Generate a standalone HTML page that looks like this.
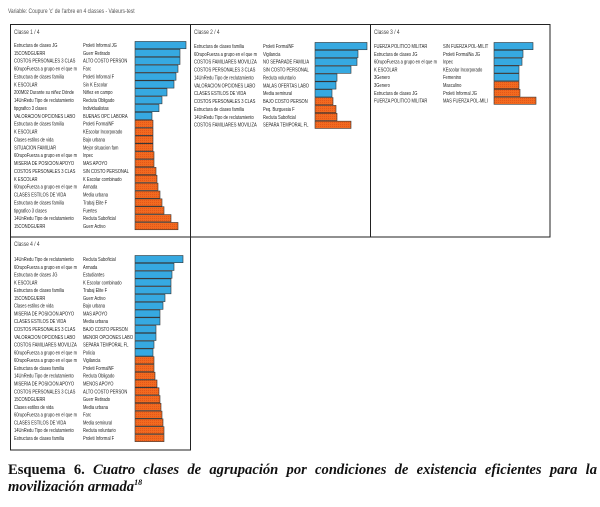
<!DOCTYPE html>
<html><head><meta charset="utf-8">
<style>
html,body{margin:0;padding:0;background:#fff;}
body{width:600px;height:507px;position:relative;overflow:hidden;}
svg{position:absolute;left:0;top:0;}
.cap{position:absolute;left:8px;top:462px;width:589px;font-family:"Liberation Serif",serif;font-size:14.6px;font-weight:bold;line-height:17px;text-align:justify;text-align-last:left;color:#111;}
.cap i{font-style:italic;}
.cap sup{font-size:8px;line-height:0;}
</style></head>
<body>
<svg id="chart" width="600" height="507" xmlns="http://www.w3.org/2000/svg">
<defs>
<pattern id="hatch" width="2" height="2" patternUnits="userSpaceOnUse">
<rect width="2" height="2" fill="#f26a1f"/>
<rect width="1" height="1" fill="#e4561a"/>
</pattern>
</defs>
<text x="10" y="13" font-family="Liberation Sans, sans-serif" font-size="6.2" fill="#555" transform="scale(0.8,1)">Variable: Coupure 'c' de l'arbre en  4 classes  -  Valeurs-test</text>
<g fill="none" stroke="#222" stroke-width="1">
<rect x="10.5" y="24.5" width="539.5" height="212.5"/>
<line x1="190.5" y1="24.5" x2="190.5" y2="237" />
<line x1="370.5" y1="24.5" x2="370.5" y2="237" />
<rect x="10.5" y="237" width="180" height="213"/>
</g>
</svg>
<div class="cap">Esquema 6. <i>Cuatro clases de agrupación por condiciones de existencia eficientes para la movilización armada</i><sup><i>18</i></sup></div>
<script>
// Panel 1
const p1Var = ["Estructura de clases JG","15CONDGUERR","COSTOS PERSONALES 3 CLAS","60rupoFuerza a grupo en el que m","Estructura de clases familia","K ESCOLAR","200M02 Durante su niñez Dónde","14UnRedu Tipo de reclutamiento","tipgrafico 3 clases","VALORACION OPCIONES LABO","Estructura de clases familia","K ESCOLAR","Clases estilos de vida","SITUACION FAMILIAR","60rupoFuerza a grupo en el que m","MISERIA  DE POSICION  APOYO","COSTOS PERSONALES 3 CLAS","K ESCOLAR","60rupoFuerza a grupo en el que m","CLASES ESTILOS DE VIDA","Estructura de clases familia","tipgrafico 3 clases","14UnRedu Tipo de reclutamiento","15CONDGUERR"];
const p1Mod = ["Proleti Informal JG","Guerr Retirado","ALTO COSTO PERSON","Farc","Proleti Informal F","Sin K Escolar","Niñez en campo","Recluta Obligado","Individualistas","BUENAS OPC LABORA","Proleti FormalNF","KEscolar Incorporado","Bajo urbana","Mejor situacion fam","Inpec","MAS APOYO","SIN COSTO PERSONAL","K Escolar combinado","Armada","Media urbana","Trabaj Elite F","Fuertes","Recluta Suboficial","Guerr Activo"];
const p1Val = [51,45,45,43,41,39,32,27,24,17,18,18,18,18,19,19,21,22,23,25,27,29,36,43];
const p1Sign = [1,1,1,1,1,1,1,1,1,1,-1,-1,-1,-1,-1,-1,-1,-1,-1,-1,-1,-1,-1,-1];
// Panel 2
const p2Var = ["Estructura de clases familia","60rupoFuerza a grupo en el que m","COSTOS FAMILIARES MOVILIZA","COSTOS PERSONALES 3 CLAS","14UnRedu Tipo de reclutamiento","VALORACION OPCIONES LABO","CLASES ESTILOS DE VIDA","COSTOS PERSONALES 3 CLAS","Estructura de clases familia","14UnRedu Tipo de reclutamiento","COSTOS FAMILIARES MOVILIZA"];
const p2Mod = ["Proleti FormalNF","Vigilancia","NO SEPARADE FAMILIA","SIN COSTO PERSONAL","Recluta voluntario","MALAS OFERTAS LABO","Media semirural","BAJO COSTO PERSON","Peq. Burguesia F","Recluta Suboficial","SEPARA TEMPORAL FL"];
const p2Val = [52,43,42,36,22,21,17,18,21,22,36];
const p2Sign = [1,1,1,1,1,1,1,-1,-1,-1,-1];
// Panel 3
const p3Var = ["FUERZA POLITICO MILITAR","Estructura de clases JG","60rupoFuerza a grupo en el que m","K ESCOLAR","3Genero","3Genero","Estructura de clases JG","FUERZA POLITICO MILITAR"];
const p3Mod = ["SIN FUERZA POL-MILIT","Proleti FormalNa JG","Inpec","KEscolar Incorporado","Femenino","Masculino","Proleti Informal JG","MAS FUERZA POL-MILI"];
const p3Val = [39,29,28,25,25,25,26,42];
const p3Sign = [1,1,1,1,1,-1,-1,-1];
// Panel 4
const p4Var = ["14UnRedu Tipo de reclutamiento","60rupoFuerza a grupo en el que m","Estructura de clases JG","K ESCOLAR","Estructura de clases familia","15CONDGUERR","Clases estilos de vida","MISERIA  DE POSICION  APOYO","CLASES ESTILOS DE VIDA","COSTOS PERSONALES 3 CLAS","VALORACION OPCIONES LABO","COSTOS FAMILIARES MOVILIZA","60rupoFuerza a grupo en el que m","60rupoFuerza a grupo en el que m","Estructura de clases familia","14UnRedu Tipo de reclutamiento","MISERIA  DE POSICION  APOYO","COSTOS PERSONALES 3 CLAS","15CONDGUERR","Clases estilos de vida","60rupoFuerza a grupo en el que m","CLASES ESTILOS DE VIDA","14UnRedu Tipo de reclutamiento","Estructura de clases familia"];
const p4Mod = ["Recluta Suboficial","Armada","Estudiantes","K Escolar combinado","Trabaj Elite F","Guerr Activo","Bajo urbana","MAS APOYO","Media urbana","BAJO COSTO PERSON","MENOR OPCIONES LABO","SEPARA TEMPORAL FL","Policia","Vigilancia","Proleti FormalNF","Recluta Obligado","MENOS APOYO","ALTO COSTO PERSON","Guerr Retirado","Media urbana","Farc","Media semirural","Recluta voluntario","Proleti Informal F"];
const p4Val = [48,39,37,36,36,30,28,25,25,21,21,19,18,19,19,20,22,24,25,26,27,28,29,29];
const p4Sign = [1,1,1,1,1,1,1,1,1,1,1,1,1,-1,-1,-1,-1,-1,-1,-1,-1,-1,-1,-1];

const NS = "http://www.w3.org/2000/svg";
const svg = document.getElementById('chart');
const SX = 0.76;

function addText(g, x, y, str, size, fill) {
  const t = document.createElementNS(NS, 'text');
  t.setAttribute('x', (x / SX).toFixed(2));
  t.setAttribute('y', y);
  t.setAttribute('transform', 'scale(' + SX + ',1)');
  t.setAttribute('font-family', 'Liberation Sans, sans-serif');
  t.setAttribute('font-size', size);
  t.setAttribute('fill', fill);
  t.textContent = str;
  g.appendChild(t);
  return t;
}

function drawPanel(num, left, top, rowTop, step, col2, barX, scale, vars, mods, vals, signs) {
  const g = document.createElementNS(NS, 'g');
  
  
  svg.appendChild(g);
  const title = addText(g, left + 4, top + 10, 'Classe  ' + num + ' / 4', 6.4, '#444');
  
  
  const vx = v => v * scale;
  for (let i = 0; i < vars.length; i++) {
    const cy = rowTop + i * step;
    const a = addText(g, left + 4, cy + 2, vars[i], 5.4, '#222');
    
    
    const b = addText(g, col2, cy + 2, mods[i], 5.4, '#222');
    
    
    const r = document.createElementNS(NS, 'rect');
    r.setAttribute('x', barX);
    r.setAttribute('y', (cy - step / 2 + 0.4).toFixed(2));
    r.setAttribute('width', vx(vals[i]).toFixed(2));
    r.setAttribute('height', (step - 0.6).toFixed(2));
    r.setAttribute('fill', signs[i] > 0 ? '#36a9e1' : 'url(#hatch)');
    r.setAttribute('stroke', '#333');
    r.setAttribute('stroke-width', '0.6');
    
    
    g.appendChild(r);
  }
}

drawPanel(1, 10, 24, 45, 7.87, 83, 135, 1, p1Var, p1Mod, p1Val, p1Sign);
drawPanel(2, 190, 24, 46, 7.87, 263, 315, 1, p2Var, p2Mod, p2Val, p2Sign);
drawPanel(3, 370, 24, 46, 7.8, 443, 494, 1, p3Var, p3Mod, p3Val, p3Sign);
drawPanel(4, 10, 236, 259, 7.78, 83, 135, 1, p4Var, p4Mod, p4Val, p4Sign);
</script>
</body></html>
